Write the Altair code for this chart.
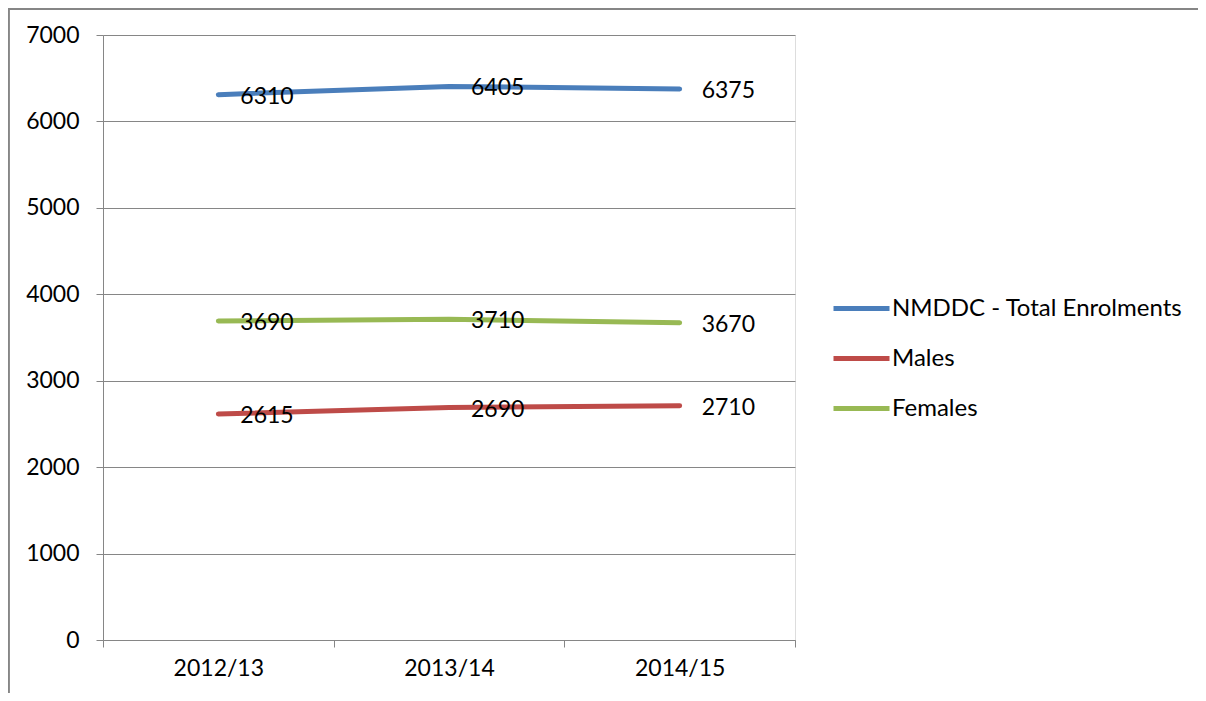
import altair as alt
import pandas as pd

years = ["2012/13", "2013/14", "2014/15"]
series = ["NMDDC - Total Enrolments", "Males", "Females"]
total = [6310, 6405, 6375]
males = [2615, 2690, 2710]
females = [3690, 3710, 3670]
colors = ["#4A7EBB", "#BE4B48", "#98B954"]
y_ticks = [0, 1000, 2000, 3000, 4000, 5000, 6000, 7000]

rows = []
for name, vals in zip(series, [total, males, females]):
    for yr, v in zip(years, vals):
        rows.append({"year": yr, "series": name, "value": v})
df = pd.DataFrame(rows)

FONT = "Lato"
GRAY = "#868686"

x_enc = alt.X(
    "year:N",
    sort=years,
    scale=alt.Scale(type="band", paddingInner=0, paddingOuter=0),
    axis=alt.Axis(
        title=None, tickBand="extent", grid=False, domainColor=GRAY, tickColor=GRAY,
        tickSize=7, labelPadding=10, labelFont=FONT, labelFontSize=23, labelColor="black",
        labelAngle=0,
    ),
)
y_enc = alt.Y(
    "value:Q",
    scale=alt.Scale(domain=[0, 7000], nice=False),
    axis=alt.Axis(
        title=None, values=y_ticks, format="d", grid=True, gridColor=GRAY, domainColor=GRAY,
        tickColor=GRAY, tickSize=7, labelPadding=17, labelFont=FONT, labelFontSize=23,
        labelColor="black",
    ),
)

lines = alt.Chart(df).mark_line(strokeWidth=5, strokeCap="round").encode(
    x=x_enc,
    y=y_enc,
    color=alt.Color(
        "series:N",
        sort=series,
        scale=alt.Scale(domain=series, range=colors),
        legend=alt.Legend(
            title=None, orient="none", legendX=728, legendY=243,
            symbolType="stroke", symbolSize=3136, symbolStrokeWidth=5,
            labelFont=FONT, labelFontSize=24, labelColor="black", labelOffset=0,
            rowPadding=7, labelLimit=400,
        ),
    ),
)

labels = alt.Chart(df).mark_text(
    align="left", baseline="middle", dx=22, dy=2, font=FONT, fontSize=23, color="black"
).encode(
    x=alt.X("year:N", sort=years),
    y=alt.Y("value:Q"),
    text=alt.Text("value:Q", format="d"),
)

frame_top = alt.Chart(df).mark_rule(color=GRAY, strokeWidth=1.5, clip=False).encode(
    x=alt.value(-94.5), x2=alt.value(1100), y=alt.value(-26)
)
frame_left = alt.Chart(df).mark_rule(color=GRAY, strokeWidth=1.5, clip=False).encode(
    x=alt.value(-94.5), y=alt.value(-26), y2=alt.value(660)
)

chart = alt.layer(frame_top, frame_left, lines, labels).properties(
    width=692,
    height=605,
    autosize=alt.AutoSizeParams(type="none"),
    padding={"left": 95, "top": 27, "right": 403, "bottom": 53},
).configure_view(stroke=None).configure(background="white")

chart.save("out.html", embed_options={"renderer": "svg", "actions": False})
